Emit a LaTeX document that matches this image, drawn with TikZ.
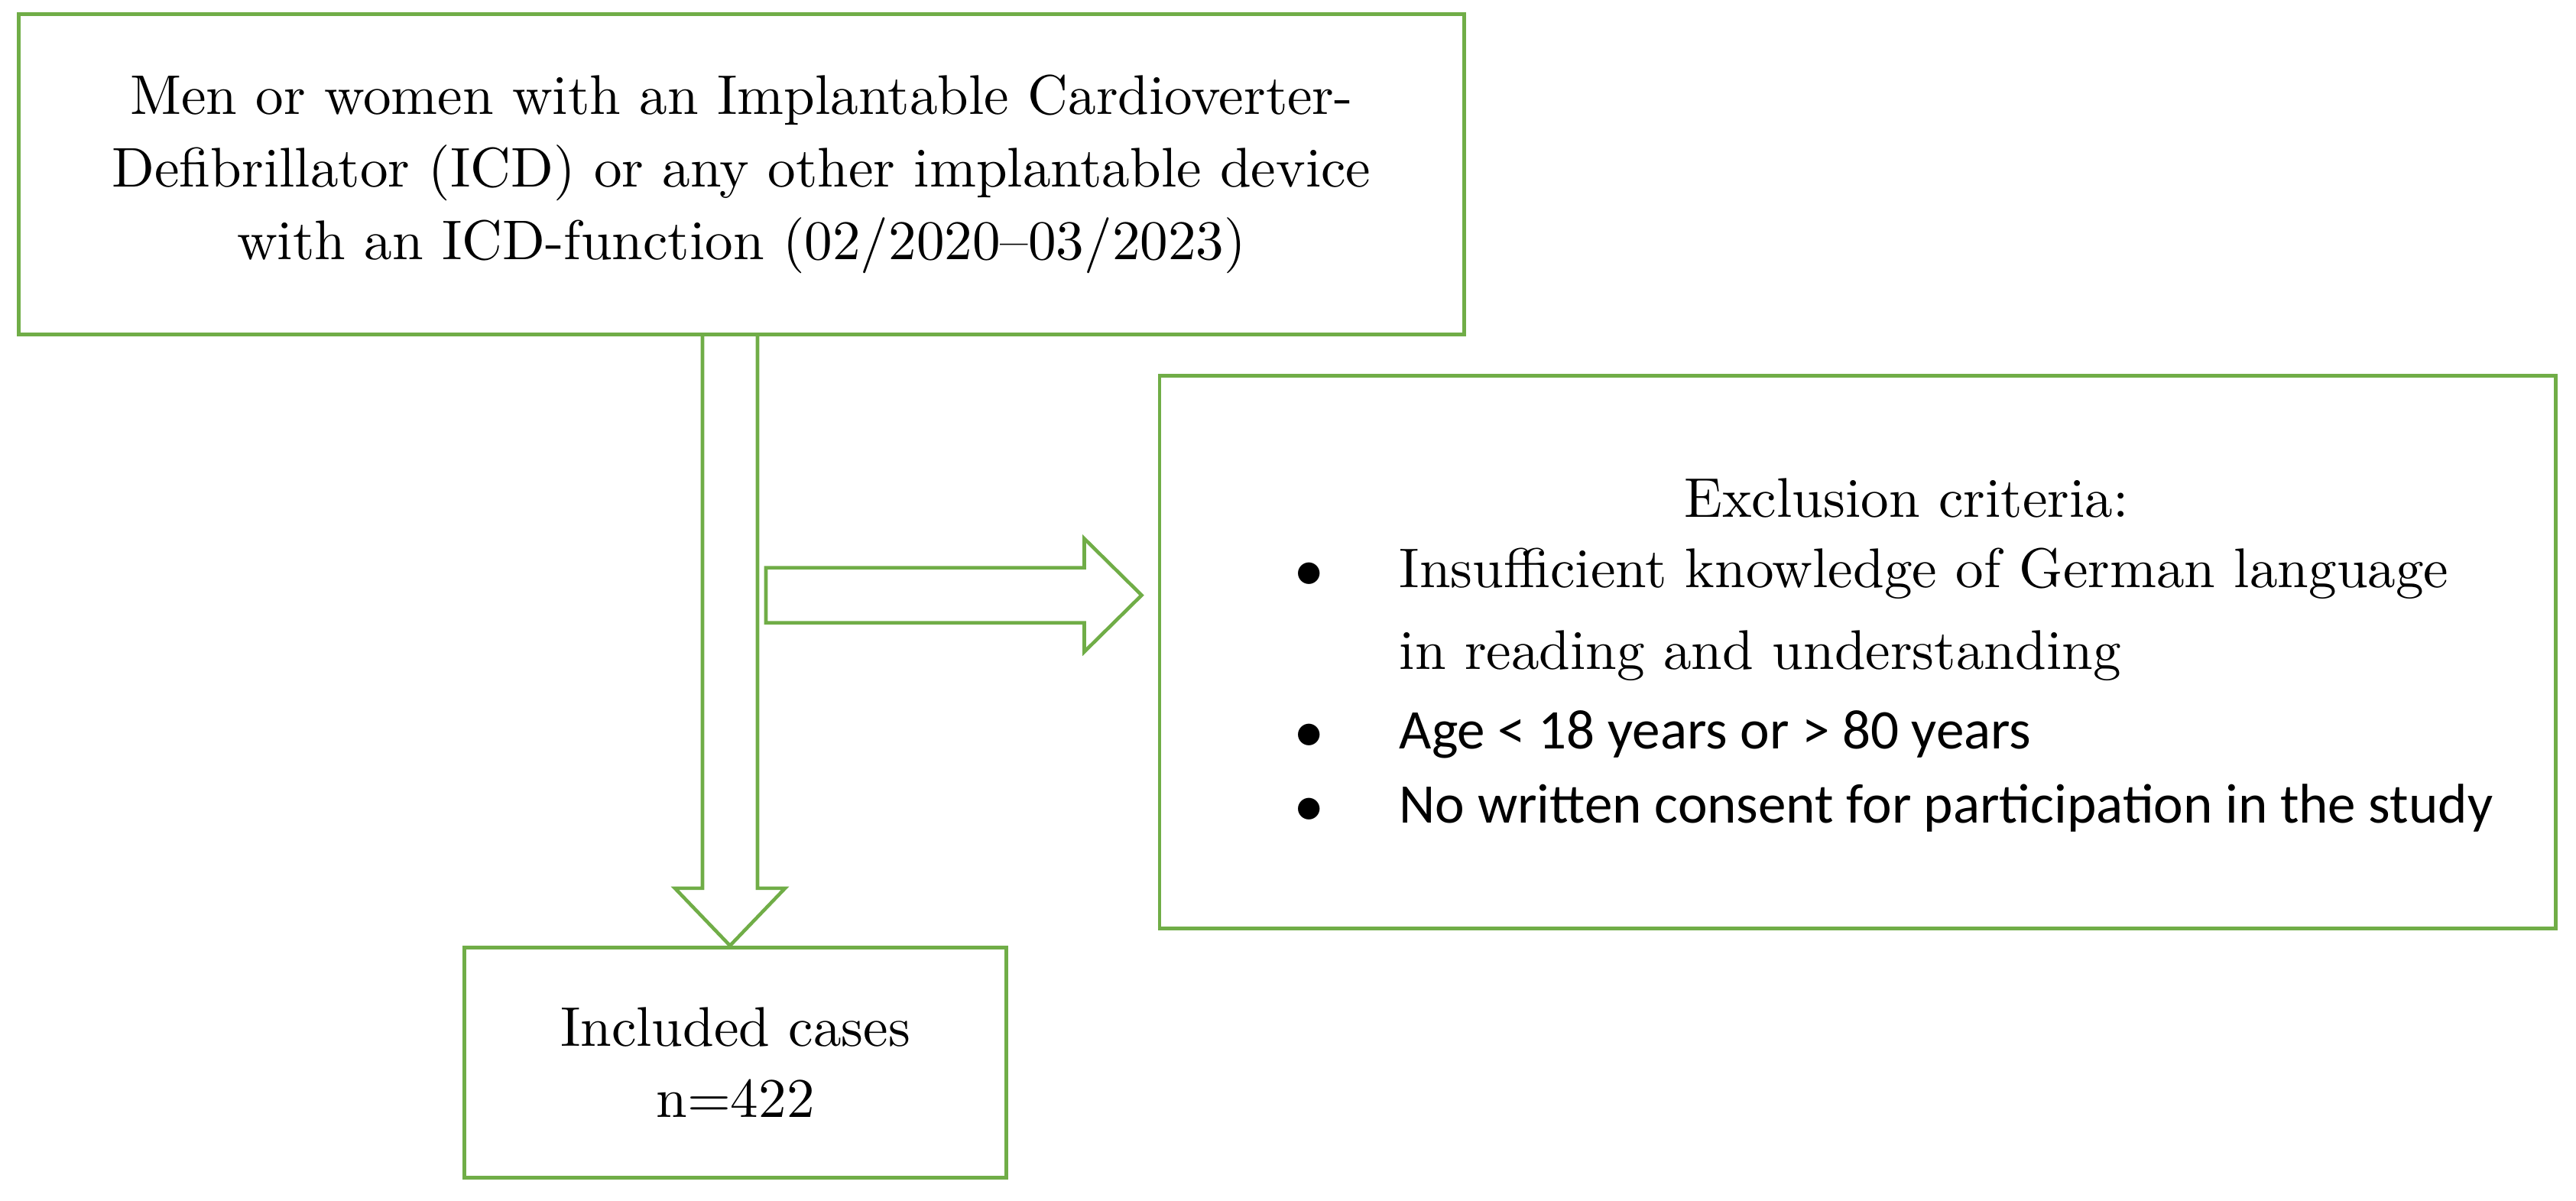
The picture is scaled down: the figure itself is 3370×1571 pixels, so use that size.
\documentclass[tikz,border=0pt]{standalone}
\usepackage{fontspec}
\setmainfont{lmroman10-regular.otf}
\newfontfamily\calibrifont{Carlito}
\usetikzlibrary{calc,positioning}
\definecolor{boxgreen}{RGB}{112,173,71}

\begin{document}
\begin{tikzpicture}[x=0.01cm,y=-0.01cm,
  box/.style={draw=boxgreen,line width=1.4pt,rectangle,inner sep=0pt,align=center,
    font=\fontsize{20.8}{27}\selectfont},
  fatarrow/.style={draw=boxgreen,line width=1.3pt,line join=miter},
  critserif/.style={inner sep=0pt,font=\fontsize{20.8}{27}\selectfont},
  critsans/.style={inner sep=0pt,font=\calibrifont\fontsize{20.8}{27}\selectfont}]

\useasboundingbox (0,0) rectangle (3370,1571);

% the three boxes
\node[box,minimum width=18.9cm,minimum height=4.18cm] (pop) at (970,228)
  {Men or women with an Implantable Cardioverter-\\
   Defibrillator (ICD) or any other implantable device\\
   with an ICD-function (02/2020--03/2023)};
\node[box,minimum width=7.09cm,minimum height=3.01cm,font=\fontsize{20.8}{26.5}\selectfont] (incl) at (962,1390)
  {Included cases\\n=422};
\node[box,minimum width=18.25cm,minimum height=7.23cm] (excl) at (2430,853) {};

% down arrow
\def\shaft{36}
\def\wing{72}
\def\headlen{75}
\path (pop.south) ++(-15,0) coordinate (dtop);
\path (dtop |- incl.north) coordinate (dtip);
\draw[fatarrow] ($(dtop)+(-\shaft,0)$) -- ($(dtip)+(-\shaft,-\headlen)$) -- ($(dtip)+(-\wing,-\headlen)$)
  -- (dtip) -- ($(dtip)+(\wing,-\headlen)$) -- ($(dtip)+(\shaft,-\headlen)$) -- ($(dtop)+(\shaft,0)$);

% arrow to the exclusion box
\path (dtop) ++(47,339) coordinate (rtail);
\path (rtail -| excl.west) ++(-21,0) coordinate (rtip);
\draw[fatarrow] ($(rtail)+(0,-\shaft)$) -- ($(rtip)+(-\headlen,-\shaft)$) -- ($(rtip)+(-\headlen,-74)$)
  -- (rtip) -- ($(rtip)+(-\headlen,74)$) -- ($(rtip)+(-\headlen,\shaft)$) -- ($(rtail)+(0,\shaft)$) -- cycle;

% exclusion criteria
\node[critserif,anchor=base] (crithead) at (2494,677) {Exclusion criteria:};
\foreach \yb/\txt/\sty/\dot [count=\i] in {
  769/{Insufficient knowledge of German language}/critserif/1,
  876/{in reading and understanding}/critserif/0,
  980/{Age < 18 years or > 80 years}/critsans/1,
  1077/{No written consent for participation in the study}/critsans/1}
{
  \node[\sty,anchor=base west] (item\i) at (1830,\yb) {\txt};
  \ifnum\dot=1
    \node[critserif,anchor=base] (dot\i) at (1713,\yb) {$\bullet$};
  \fi
}
\end{tikzpicture}
\end{document}
